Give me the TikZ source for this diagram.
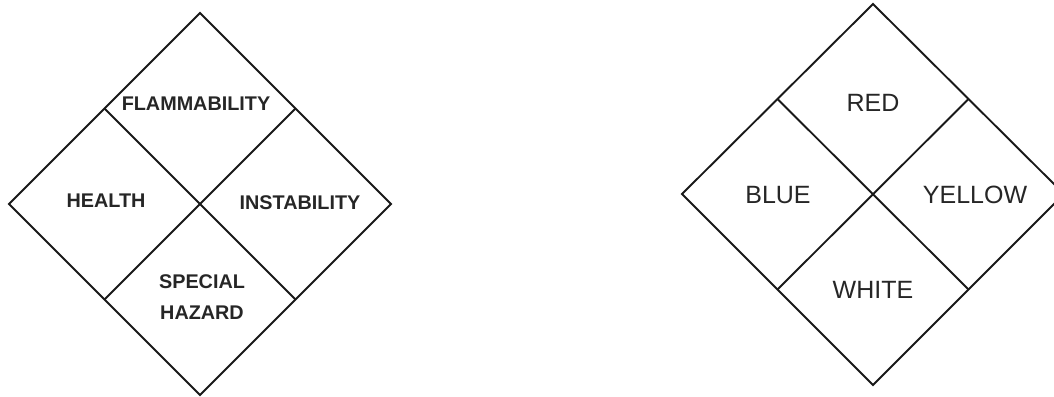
\documentclass[tikz,border=0pt]{standalone}
\usepackage{fontspec}
\setmainfont{Liberation Sans}
\usetikzlibrary{calc}
\begin{document}
\begin{tikzpicture}[x=1pt,y=-1pt,
  edge/.style={line width=1.9pt,line join=miter,draw=black!90},
  boldlbl/.style={font=\fontsize{19.8}{24}\selectfont\bfseries,text=black!85,align=center,inner sep=0pt},
  plainlbl/.style={font=\fontsize{25}{29}\selectfont,text=black!85,inner sep=0pt}]
\useasboundingbox (0,0) rectangle (1054,396);
\clip (0,0) rectangle (1054,396);
% left diamond
\coordinate (LT) at (200,13);
\coordinate (LL) at (9,204);
\coordinate (LR) at (391,204);
\coordinate (LB) at (200,395);
\coordinate (Ltl) at ($(LT)!0.5!(LL)$);
\coordinate (Ltr) at ($(LT)!0.5!(LR)$);
\coordinate (Lbl) at ($(LB)!0.5!(LL)$);
\coordinate (Lbr) at ($(LB)!0.5!(LR)$);
\draw[edge] (LT) -- (LR) -- (LB) -- (LL) -- cycle;
\draw[edge] (Ltl) -- (Lbr);
\draw[edge] (Ltr) -- (Lbl);
\node[boldlbl] (flam) at (196,104) {FLAMMABILITY};
\node[boldlbl] (health) at (106,201) {HEALTH};
\node[boldlbl] (inst) at (300,203) {INSTABILITY};
\node[boldlbl] (spec) at (202,282) {SPECIAL};
\node[boldlbl] (haz) at (202,313) {HAZARD};
% right diamond
\coordinate (RT) at (873,4);
\coordinate (RL) at (682,194);
\coordinate (RR) at (1064,194);
\coordinate (RB) at (873,385);
\coordinate (Rtl) at ($(RT)!0.5!(RL)$);
\coordinate (Rtr) at ($(RT)!0.5!(RR)$);
\coordinate (Rbl) at ($(RB)!0.5!(RL)$);
\coordinate (Rbr) at ($(RB)!0.5!(RR)$);
\draw[edge] (RT) -- (RR) -- (RB) -- (RL) -- cycle;
\draw[edge] (Rtl) -- (Rbr);
\draw[edge] (Rtr) -- (Rbl);
\node[plainlbl] (red) at (873,103) {RED};
\node[plainlbl] (blue) at (778,195) {BLUE};
\node[plainlbl] (yellow) at (975,195) {YELLOW};
\node[plainlbl] (white) at (873,290) {WHITE};
\end{tikzpicture}
\end{document}
